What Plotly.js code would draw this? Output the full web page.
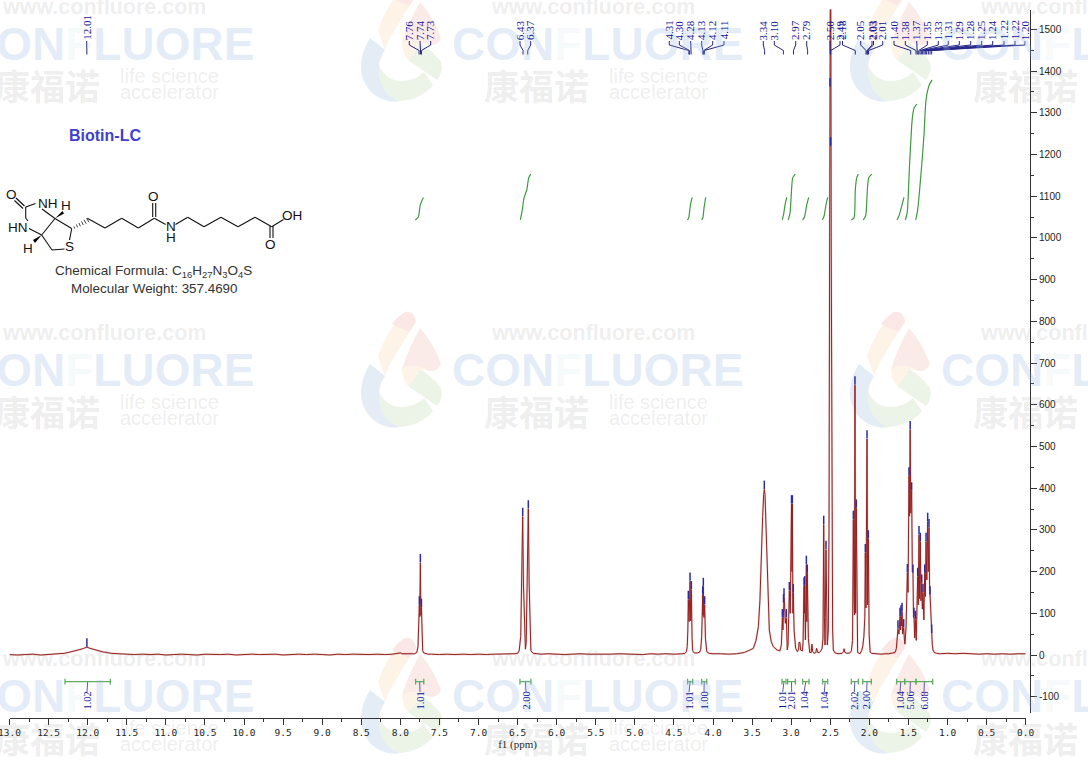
<!DOCTYPE html>
<html><head><meta charset="utf-8">
<script src="https://cdn.plot.ly/plotly-3.0.1.min.js"></script>
<style>html,body{margin:0;padding:0;background:#fff}#chart{width:1088px;height:760px}</style>
</head><body><div id="chart"></div>
<script>
// ---------- data ----------
const acidPpm=[13,12.9,12.8,12.7,12.6,12.5,12.45,12.4,12.35,12.3,12.25,12.2,12.15,12.1,12.05,12.01,11.97,11.92,11.87,11.8,11.75,11.7,11.6,11.5,11.4,11.3];
const acidI=[1,0,1,2,0,1,2,2,3,4,6,8,10,13,16,19,16,13,10,7,6,4,3,2,1,2];
const base1Ppm=[11.2,11.1,11,10.9,10.8,10.7,10.6,10.5,10.4,10.3,10.2,10.1,10,9.9,9.8,9.7,9.6,9.5,9.4,9.3,9.2,9.1,9,8.9,8.8,8.7,8.6,8.5,8.4,8.3,8.2,8.1,8.02,8,7.98,7.9,7.85];
const base1I=[1,2,0,1,2,1,0,2,1,1,2,0,1,2,1,1,2,0,1,2,1,2,1,0,2,1,2,1,1,2,1,2,3,5,3,2,3];
const nhPpm=[7.82,7.79,7.774,7.765,7.757,7.752,7.744,7.737,7.73,7.722,7.714,7.7,7.68,7.65,7.6,7.5,7.4,7.3,7.2,7.1,7,6.9,6.8,6.7,6.6,6.55,6.5,6.48,6.46,6.445,6.435,6.425,6.41,6.4,6.39,6.375,6.363,6.352,6.34,6.33,6.3,6.26];
const nhI=[3,6,20,80,120,92,221,95,114,60,10,5,3,2,2,1,2,1,2,1,2,1,2,2,3,3,4,10,45,180,332,170,30,14,30,180,350,170,25,10,4,3];
const base2Ppm=[6.2,6.1,6,5.9,5.8,5.7,5.6,5.5,5.4,5.3,5.2,5.1,5,4.9,4.8,4.7,4.6,4.5,4.4];
const base2I=[2,3,2,1,2,3,2,2,1,2,3,2,2,1,3,2,3,2,3];
const chPpm=[4.36,4.34,4.33,4.322,4.316,4.306,4.294,4.285,4.277,4.268,4.26,4.24,4.2,4.17,4.157,4.145,4.137,4.132,4.128,4.124,4.116,4.107,4.097,4.08,4.05,4,3.9,3.8,3.7,3.6,3.55,3.5];
const chI=[4,8,20,60,133,80,177,82,156,40,10,5,5,7,14,45,100,144,95,164,90,120,40,8,4,3,3,2,3,6,10,14];
const waterPpm=[3.484,3.45,3.42,3.4,3.386,3.365,3.352,3.344,3.335,3.322,3.3,3.28,3.255,3.229,3.18,3.143];
const waterI=[16,35,68,130,228,332,385,397,385,308,156,60,32,20,12,10];
const midPpm=[3.125,3.118,3.113,3.106,3.098,3.092,3.086,3.075,3.062,3.055,3.05,3.04,3.03,3.024,3.012,2.996,2.99,2.985,2.978,2.973,2.963,2.943,2.92,2.905,2.9,2.888,2.88,2.857,2.848,2.836,2.832,2.827,2.818,2.806,2.8,2.794,2.78,2.763,2.745,2.735,2.725,2.708,2.685,2.674,2.662,2.64,2.62,2.605,2.593,2.584,2.575,2.567,2.555,2.545,2.538];
const midI=[25,60,89,60,125,139,125,76,89,50,12,25,80,154,100,362,200,362,100,149,60,16,8,14,30,30,12,10,30,165,100,168,36,217,80,196,40,6,6,26,8,4,6,16,6,6,10,16,40,313,90,24,253,70,24];
const dmsoPpm=[2.525,2.516,2.508,2.503,2.498,2.494,2.488,2.48,2.47,2.461,2.44,2.4,2.35,2.33,2.324,2.315,2.29,2.25];
const dmsoI=[60,300,1000,1620,1700,1620,1000,250,60,12,5,3,4,8,15,7,4,5];
const ch2Ppm=[2.23,2.215,2.205,2.197,2.191,2.184,2.176,2.167,2.158,2.15,2.12,2.1,2.085,2.07,2.058,2.052,2.043,2.03,2.022,2.013,2.003,1.99,1.97,1.93,1.85,1.8,1.75,1.7,1.672];
const ch2I=[10,35,325,140,96,647,100,352,40,6,3,10,20,45,90,245,113,518,120,278,50,7,4,3,2,3,3,5,6];
const alkPpm=[1.655,1.645,1.634,1.622,1.608,1.601,1.595,1.588,1.582,1.574,1.561,1.55,1.544,1.53,1.514,1.505,1.493,1.486,1.478,1.47,1.459,1.45,1.442,1.435,1.429,1.42,1.412,1.4,1.382,1.375,1.365,1.357,1.348,1.34,1.33,1.322,1.314,1.303,1.292,1.284,1.275,1.265,1.254,1.246,1.237,1.23,1.224,1.213,1.203,1.195,1.186,1.17,1.138,1.1];
const alkI=[15,35,62,50,92,60,98,70,104,50,65,32,26,70,197,150,429,333,540,340,393,200,196,90,92,41,85,35,188,120,288,135,272,130,172,110,150,84,196,140,272,180,320,200,305,170,144,70,52,25,12,6,4,3];
const base3Ppm=[1,0.9,0.8,0.7,0.6,0.5,0.4,0.3,0.2,0.1,0];
const base3I=[4,3,4,3,2,3,2,3,2,3,3];

const markPpm=[12.01,7.757,7.744,7.73,6.435,6.363,4.316,4.294,4.277,4.132,4.124,4.107,3.344,3.113,3.098,3.092,3.062,3.024,2.996,2.985,2.973,2.836,2.827,2.806,2.794,2.584,2.555,2.503,2.496,2.205,2.184,2.167,2.052,2.03,2.013,1.634,1.608,1.595,1.582,1.561,1.514,1.493,1.478,1.459,1.442,1.429,1.412,1.382,1.365,1.348,1.33,1.314,1.292,1.275,1.254,1.237,1.224,1.203];
const markI=[19,120,221,114,332,350,133,177,156,144,164,120,397,89,125,139,89,154,362,362,149,165,168,217,196,313,253,1362,1220,325,647,352,245,518,278,62,92,98,104,65,197,429,540,393,196,92,85,188,288,272,172,150,196,272,320,305,144,52];

const pickLabels=['12.01','7.76','7.74','7.73','6.43','6.37','4.31','4.30','4.28','4.13','4.12','4.11','3.34','3.10','2.97','2.79','2.50','2.49','2.18','2.05','2.03','2.03','2.01','1.40','1.38','1.37','1.35','1.33','1.31','1.29','1.28','1.25','1.24','1.22','1.22','1.20'];
const pickPpm=[12.01,7.76,7.74,7.73,6.43,6.37,4.31,4.30,4.28,4.13,4.12,4.11,3.34,3.10,2.97,2.79,2.50,2.495,2.18,2.043,2.03,2.025,2.01,1.471,1.403,1.386,1.369,1.352,1.335,1.318,1.301,1.284,1.267,1.246,1.224,1.203];

const integralFrom=[12.29,7.805,6.47,4.325,4.145,3.118,3.045,2.853,2.597,2.231,2.085,1.65,1.548,1.403];
const integralTo=[11.71,7.7,6.33,4.26,4.08,3.066,2.947,2.772,2.533,2.141,1.975,1.548,1.403,1.19];
const integralLabels=['1.02','1.01','2.00','1.01','1.00','1.01','2.01','1.04','1.04','2.02','2.00','1.04','5.06','6.08'];

const curvePpm=[
 [7.808,7.77,7.745,7.706],
 [6.465,6.44,6.418,6.383,6.358,6.332],
 [4.329,4.311,4.294,4.282,4.265],
 [4.145,4.128,4.115,4.103,4.094],
 [3.114,3.098,3.079,3.057],
 [3.037,3.015,2.993,2.981,2.947],
 [2.853,2.83,2.801,2.776],
 [2.602,2.58,2.555,2.533],
 [2.231,2.196,2.18,2.162,2.141],
 [2.078,2.047,2.026,2.008,1.97],
 [1.646,1.621,1.582,1.557],
 [1.54,1.515,1.489,1.458,1.445,1.429,1.394],
 [1.407,1.382,1.33,1.301,1.275,1.233,1.198]];
const curveI=[
 [1043,1050,1079,1097],
 [1043,1067,1096,1115,1144,1153],
 [1043,1048,1072,1086,1097],
 [1043,1050,1072,1086,1097],
 [1043,1055,1079,1097],
 [1043,1060,1122,1144,1153],
 [1043,1050,1079,1097],
 [1043,1052,1079,1097],
 [1043,1048,1115,1144,1153],
 [1043,1053,1115,1144,1153],
 [1043,1053,1079,1097],
 [1043,1062,1163,1271,1295,1311,1321],
 [1043,1067,1175,1247,1331,1367,1379]];

const xTickVals=[13,12.5,12,11.5,11,10.5,10,9.5,9,8.5,8,7.5,7,6.5,6,5.5,5,4.5,4,3.5,3,2.5,2,1.5,1,0.5,0];
const xTickText=['13.0','12.5','12.0','11.5','11.0','10.5','10.0','9.5','9.0','8.5','8.0','7.5','7.0','6.5','6.0','5.5','5.0','4.5','4.0','3.5','3.0','2.5','2.0','1.5','1.0','0.5','0.0'];
const yTickVals=[-100,0,100,200,300,400,500,600,700,800,900,1000,1100,1200,1300,1400,1500];
const yTickText=['-100','0','100','200','300','400','500','600','700','800','900','1000','1100','1200','1300','1400','1500'];

// ---------- page geometry ----------
const W=1088,H=760;
const px=x=>x/W, py=y=>1-y/H;
const xLeft=9.5,xRight=1025.7,yPerUnit=0.4171,yZero=655;
const ppmAt=x=>(xRight-x)/((xRight-xLeft)/13);
const iAt=y=>(yZero-y)/yPerUnit;
// label slots along the top row and under the integrals (page pixels)
const pickSlotX=[86.7,409.3,420,430.7,520,530.7,669.3,679.3,690.7,701.7,712.7,724,763.3,774.3,795.7,806.7,830,840,842.5,860.7,872,873.5,882.7,894,905.3,916.7,927.3,938.3,948.3,959.3,970.7,981.7,992.7,1004,1015,1025];
const integralSlotX=[87,420,526,689,704,782.7,791.7,804,824.3,854.3,866.7,900,910,924];

// ---------- traces ----------
const spectrumX=[].concat(acidPpm,base1Ppm,nhPpm,base2Ppm,chPpm,waterPpm,midPpm,dmsoPpm,ch2Ppm,alkPpm,base3Ppm);
const spectrumY=[].concat(acidI,base1I,nhI,base2I,chI,waterI,midI,dmsoI,ch2I,alkI,base3I);
const traces=[];
// integral curves
const cx=[],cy=[];
curvePpm.forEach((c,i)=>{cx.push(...c,null);cy.push(...curveI[i],null);});
traces.push({x:cx,y:cy,mode:'lines',line:{color:'#3f9a3f',width:1.2,shape:'spline',smoothing:0.6},hoverinfo:'skip'});
// spectrum: faint halo and core line
traces.push({x:spectrumX,y:spectrumY,mode:'lines',line:{color:'rgba(160,60,60,0.22)',width:2},hoverinfo:'skip'});
traces.push({x:spectrumX,y:spectrumY,mode:'lines',line:{color:'#96201f',width:1},hoverinfo:'skip'});
// peak marks
traces.push({x:markPpm,y:markI.map(v=>v+11),mode:'markers',marker:{symbol:'line-ns',size:6,line:{color:'#2b2ba8',width:1.5}},hoverinfo:'skip'});
// peak label trees
const tx=[],ty=[];
pickPpm.forEach((p,i)=>{
  const s=ppmAt(pickSlotX[i]);
  tx.push(s,s,p,p,null);
  ty.push(iAt(41),iAt(45),iAt(50.5),iAt(54.5),null);
});
traces.push({x:tx,y:ty,mode:'lines',line:{color:'#24248a',width:1},hoverinfo:'skip'});
// integral brackets
const bx=[],by=[],sx=[],sy=[];
integralFrom.forEach((a,i)=>{
  const b=integralTo[i];
  bx.push(a,a,a,b,b,b,null);
  by.push(-57,-71,-64,-64,-57,-71,null);
  const s=ppmAt(integralSlotX[i]);
  sx.push((a+b)/2,s,null);
  sy.push(-64,iAt(692),null);
});
traces.push({x:sx,y:sy,mode:'lines',line:{color:'#5a5ab4',width:1},hoverinfo:'skip'});
traces.push({x:bx,y:by,mode:'lines',line:{color:'#5fae5f',width:1.3},hoverinfo:'skip'});

// ---------- decoration: shapes and text ----------
const shapes=[],ann=[];
const toPaper=(d,ox=0,oy=0)=>d.replace(/(-?[\d.]+),(-?[\d.]+)/g,(m,a,b)=>px(+a+ox).toFixed(5)+','+py(+b+oy).toFixed(5));
function pathShape(d,fill,ox,oy,layer){shapes.push({type:'path',xref:'paper',yref:'paper',path:toPaper(d,ox,oy),fillcolor:fill,line:{width:0},layer:layer||'below'});}
function text(t,x,y,size,color,opt){ann.push(Object.assign({text:t,xref:'paper',yref:'paper',x:px(x),y:py(y),xanchor:'center',yanchor:'middle',showarrow:false,borderpad:0,font:{size:size,color:color,family:'"Liberation Sans",Arial,sans-serif'}},opt||{}));}

// watermark tiles
const markBlue='rgba(150,185,225,0.27)',markGrey='rgba(130,130,130,0.15)',markF='rgba(140,190,185,0.3)';
[0,326,652].forEach(oy=>{[0,489].forEach(ox=>{
  pathShape('M 370,38 Q 358,58 362,76 Q 368,96 388,101 Q 394,102 400,101 Q 382,94 379,72 Q 378,60 385,50 Z','#e4ecf6',ox,oy);
  pathShape('M 379,65 Q 386,82 404,81 Q 416,80 424,72 L 433,85 Q 420,100 400,101 Q 381,96 379,72 Z','#ecf4e8',ox,oy);
  pathShape('M 408,60 Q 414,54 420,43 Q 432,50 441,62 Q 444,72 437,80 Z','#ecf4e8',ox,oy);
  pathShape('M 378,30 Q 388,2 405,-14 Q 414,-16 416,-4 Q 404,14 396,28 Q 388,40 385,50 Z','#fdf3e6',ox,oy);
  pathShape('M 392,-2 Q 398,-10 405,-14 Q 414,-16 416,-4 L 409,6 Z','#fbe8e6',ox,oy);
  pathShape('M 420,2 Q 433,16 441,38 Q 438,46 429,45 Q 416,36 402,43 Q 408,24 420,2 Z','#fbebe8',ox,oy);
  pathShape('M 402,43 Q 416,36 429,45 L 420,43 Q 414,54 408,60 Q 402,52 402,43 Z','#fdf3e6',ox,oy);
});});
[0,326,652].forEach(oy=>{[0,489,978].forEach(ox=>{
  text('<b>www.confluore.com</b>',104+ox,7+oy,21.5,markGrey);
  text('<b>CON<span style="color:'+markF+'">F</span>LUORE</b>',108.5+ox,44+oy,46,markBlue);
  text('<b>康福诺</b>',47+ox,85+oy,35,markGrey,{font:{size:35,color:markGrey,family:'"Noto Sans CJK SC",sans-serif'}});
  if(ox<978){
    text('life science',169+ox,76+oy,20,markGrey);
    text('accelerator',169+ox,92+oy,20,markGrey);
  }
});});

// peak labels and integral labels
const serif='"Liberation Serif","Times New Roman",serif';
pickLabels.forEach((t,i)=>{
  text(t,pickSlotX[i],i===0?27:30.3,11,'#10109a',{textangle:-90,font:{size:11,color:'#10109a',family:serif}});
});
integralLabels.forEach((t,i)=>{
  text(t,integralSlotX[i],700.5,10.5,'#10109a',{textangle:-90,font:{size:10.5,color:'#10109a',family:serif}});
});

// structure
text('<b>Biotin-LC</b>',105,135.5,16,'#3f3fd0');
text('Chemical Formula: C<sub>16</sub>H<sub>27</sub>N<sub>3</sub>O<sub>4</sub>S',153.5,271,13.5,'#333');
text('Molecular Weight: 357.4690',154,288,13.4,'#333');
[['O',11,194.5],['NH',47.5,203],['H',66,205.5],['HN',18,227],['H',28,248],['S',69,246.5],['O',153.5,197],['N',170.5,226.5],['H',170.5,237.5],['OH',292,215],['O',270.5,244]].forEach(a=>text(a[0],a[1],a[2],13.5,'#111'));
const bonds=[[16,198,24.5,206],[14.5,200.5,23,208.5],[25.7,207,35.5,203.5],[25.7,207,25.7,218],[25.7,218,28,221],
 [55,218.5,41.7,235],[41.7,235,29,228.5],[55,218.5,42,209],[55,218.5,71.7,228.5],[71.7,228.5,69.5,240],[64.5,249,52,250],[52,250,41.7,235],
 [87.3,218.3,105,228],[105,228,121.7,218.3],[121.7,218.3,138.3,228],[138.3,228,154.3,218.3],
 [152.7,217,152.7,203],[155.7,217,155.7,203],[154.3,218.3,165.7,224.5],[175.5,224.5,187.7,217.3],[187.7,217.3,204,226.7],[204,226.7,221,217.3],[221,217.3,238,226.7],[238,226.7,255,217.3],[255,217.3,271.7,226.7],
 [270,226,270,238],[273,226,273,238],[271.7,226.7,283.5,219.5]];
bonds.forEach(b=>shapes.push({type:'line',xref:'paper',yref:'paper',x0:px(b[0]),y0:py(b[1]),x1:px(b[2]),y1:py(b[3]),line:{color:'#111',width:1.1}}));
pathShape('M 55,218.5 L 62.5,211 L 64,213.5 Z','#000',0,0,'above');
pathShape('M 41.7,235 L 33,240 L 35,243 Z','#000',0,0,'above');
[[74,226.5,74.6,228.5],[76.5,224.5,77.5,227.4],[79,223,80.4,226.3],[81.5,221.4,83.3,225],[84,219.8,86.2,223.7],[86.5,218.2,89,222.2]].forEach(b=>shapes.push({type:'line',xref:'paper',yref:'paper',x0:px(b[0]),y0:py(b[1]),x1:px(b[2]),y1:py(b[3]),line:{color:'#111',width:0.8}}));

// ---------- layout ----------
const axisColor='#333';
const layout={
  width:W,height:H,margin:{l:0,r:0,t:0,b:0,pad:0},showlegend:false,
  paper_bgcolor:'#fff',plot_bgcolor:'rgba(0,0,0,0)',
  xaxis:{domain:[px(xLeft),px(xRight)],range:[13,0],anchor:'free',position:py(718),showgrid:false,zeroline:false,showline:true,linecolor:axisColor,linewidth:1,
    tickmode:'array',tickvals:xTickVals,ticktext:xTickText,ticks:'outside',ticklen:6,tickwidth:1,tickcolor:axisColor,
    minor:{dtick:0.25,ticks:'outside',ticklen:3,tickwidth:1,tickcolor:axisColor,showgrid:false},
    tickfont:{family:'"DejaVu Sans Mono",monospace',size:9.5,color:'#222'},ticklabeloverflow:'allow',automargin:false,
    title:{text:'f1 (ppm)',font:{family:serif,size:11,color:'#222'},standoff:1}},
  yaxis:{domain:[py(713),py(9.5)],range:[iAt(713),iAt(9.5)],anchor:'free',position:px(1030),side:'right',showgrid:false,zeroline:false,showline:true,linecolor:axisColor,linewidth:1,
    tickmode:'array',tickvals:yTickVals,ticktext:yTickText,ticks:'outside',ticklen:6,tickwidth:1,tickcolor:axisColor,
    minor:{dtick:50,ticks:'outside',ticklen:3,tickwidth:1,tickcolor:axisColor,showgrid:false},
    tickfont:{family:'"Liberation Sans",Arial,sans-serif',size:10,color:'#222'},automargin:false},
  shapes:shapes,annotations:ann
};
Plotly.newPlot('chart',traces,layout,{displayModeBar:false,staticPlot:true});
</script></body></html>
